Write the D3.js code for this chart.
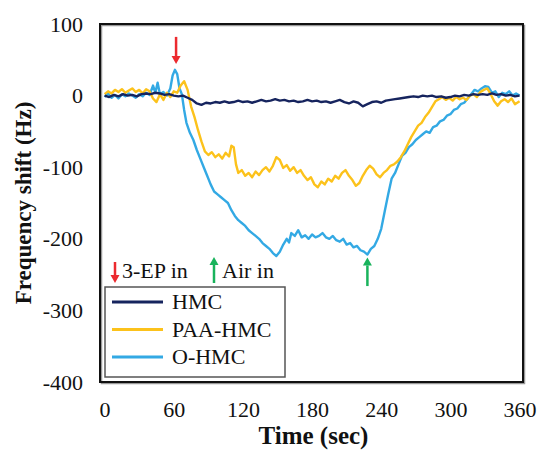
<!DOCTYPE html>
<html>
<head>
<meta charset="utf-8">
<script src="https://cdn.jsdelivr.net/npm/d3@7"></script>
<style>
    body { margin: 0; background: #fff; }
    svg text { font-family: "Liberation Serif", "Times New Roman", serif; fill: #111; }
</style>
</head>
<body>
<svg id="chart" width="541" height="451"></svg>
<script>
// readings from the figure, [time (s), shift (Hz)]
var hmc = [[0,0],[4,-2],[8,1],[12,-1],[16,2],[20,0],[24,1],[28,-1],[32,2],[36,3],[40,2],[44,4],[48,3],[52,1],[56,2],[60,0],[64,-1],[68,0],[72,-3],[76,-6],[80,-11],[84,-13],[88,-10],[92,-11],[96,-9],[100,-10],[104,-8],[108,-10],[112,-9],[116,-7],[120,-9],[124,-8],[128,-10],[132,-8],[136,-6],[140,-8],[144,-7],[148,-5],[152,-7],[156,-6],[160,-8],[164,-7],[168,-9],[172,-8],[176,-6],[180,-8],[184,-7],[188,-9],[192,-8],[196,-10],[200,-8],[204,-6],[208,-9],[212,-11],[216,-8],[220,-10],[224,-15],[228,-12],[232,-9],[236,-8],[240,-10],[244,-7],[248,-6],[252,-5],[256,-4],[260,-3],[264,-2],[268,-1],[272,-2],[276,0],[280,-1],[284,0],[288,-2],[292,-1],[296,-3],[300,-2],[304,0],[308,-1],[312,1],[316,0],[320,2],[324,1],[328,2],[332,1],[336,3],[340,1],[344,2],[348,0],[352,1],[356,-1],[360,0]];

var paaHmc = [[0,2],[3,6],[6,3],[9,8],[12,5],[15,9],[18,4],[21,7],[24,10],[27,5],[30,8],[33,3],[36,9],[39,6],[42,-4],[45,-9],[48,2],[51,-6],[54,4],[57,-2],[60,6],[63,4],[66,14],[69,20],[72,8],[75,-15],[78,-30],[81,-48],[84,-64],[87,-78],[90,-83],[93,-79],[96,-86],[99,-82],[102,-88],[105,-80],[108,-85],[110,-70],[112,-72],[114,-96],[116,-108],[119,-104],[122,-112],[125,-108],[128,-114],[131,-106],[134,-111],[137,-104],[140,-100],[143,-106],[146,-98],[149,-86],[152,-90],[155,-101],[158,-97],[161,-105],[164,-100],[167,-108],[170,-104],[173,-112],[176,-118],[179,-114],[182,-124],[185,-128],[188,-120],[191,-124],[194,-116],[197,-120],[200,-112],[203,-116],[206,-108],[209,-104],[212,-112],[215,-118],[218,-126],[221,-122],[224,-112],[227,-104],[230,-98],[233,-102],[236,-110],[239,-114],[242,-108],[245,-104],[248,-98],[251,-96],[254,-92],[257,-86],[260,-78],[263,-68],[266,-58],[269,-50],[272,-42],[275,-38],[278,-30],[281,-24],[284,-16],[287,-8],[290,-5],[293,-2],[296,-6],[299,-3],[302,-7],[305,-2],[308,-5],[311,-3],[314,-6],[317,0],[320,2],[323,-2],[326,5],[329,8],[332,10],[335,2],[338,-8],[341,-14],[344,-8],[347,-5],[350,-9],[353,-4],[356,-12],[360,-8]];

var oHmc = [[0,-2],[3,3],[6,-3],[9,1],[12,-4],[15,2],[18,-1],[21,3],[24,0],[27,-3],[30,2],[33,-1],[36,4],[39,1],[42,14],[44,4],[46,18],[48,2],[51,5],[54,0],[57,10],[59,28],[61,36],[63,30],[65,10],[67,2],[69,-20],[71,-38],[74,-52],[77,-62],[80,-76],[83,-88],[86,-100],[89,-112],[92,-124],[95,-134],[98,-138],[101,-142],[104,-146],[107,-150],[110,-160],[113,-168],[116,-174],[119,-178],[122,-182],[125,-188],[128,-192],[131,-196],[134,-200],[137,-206],[140,-210],[143,-214],[146,-220],[149,-224],[152,-218],[155,-208],[158,-200],[160,-205],[162,-192],[165,-196],[168,-188],[171,-198],[174,-195],[177,-200],[180,-194],[183,-198],[186,-196],[189,-192],[192,-198],[195,-200],[198,-196],[201,-202],[204,-204],[207,-200],[210,-208],[213,-206],[216,-212],[219,-210],[222,-216],[225,-218],[228,-222],[231,-214],[234,-210],[237,-200],[240,-186],[243,-162],[246,-138],[249,-116],[252,-108],[255,-96],[258,-84],[261,-80],[264,-72],[267,-68],[270,-62],[273,-58],[276,-54],[279,-50],[282,-52],[285,-44],[288,-42],[291,-36],[294,-34],[297,-28],[300,-26],[303,-20],[306,-18],[309,-12],[312,-10],[315,-4],[318,2],[321,8],[324,6],[327,10],[330,13],[333,12],[336,4],[339,6],[342,-2],[345,4],[348,2],[351,6],[354,0],[357,3],[360,0]];

var seriesNames = ["HMC", "PAA-HMC", "O-HMC"];
var seriesColors = ["#16245e", "#fcc21b", "#33a9e4"];
var xTicks = [0, 60, 120, 180, 240, 300, 360];
var yTicks = [100, 0, -100, -200, -300, -400];

// event markers: [time, arrow base value, arrow tip value]
var epIn = [62, 82, 44];
var airIn = [228, -266, -226];

var svg = d3.select("#chart");
var plot = { left: 100, right: 523, top: 24, bottom: 382 };

var x = d3.scaleLinear().domain([-4, 363]).range([plot.left, plot.right]);
var y = d3.scaleLinear().domain([-400, 100]).range([plot.bottom, plot.top]);

var line = d3.line()
    .x(function(d) { return x(d[0]); })
    .y(function(d) { return y(d[1]); });

// plain hyphen minus like the original, no tick marks
var plain = function(d) { return String(d); };
var xAxis = svg.append("g")
    .attr("transform", "translate(0," + plot.bottom + ")")
    .call(d3.axisBottom(x).tickValues(xTicks).tickFormat(plain).tickSize(0).tickPadding(19));
var yAxis = svg.append("g")
    .attr("transform", "translate(" + plot.left + ",0)")
    .call(d3.axisLeft(y).tickValues(yTicks).tickFormat(plain).tickSize(0).tickPadding(17));
[xAxis, yAxis].forEach(function(a) {
    a.select(".domain").remove();
    a.selectAll("text").attr("font-size", 22).attr("font-family", "Liberation Serif").attr("fill", "#111");
});

// frame shadow + frame
svg.append("rect")
    .attr("x", plot.left + 1.5).attr("y", plot.top + 1.5)
    .attr("width", plot.right - plot.left).attr("height", plot.bottom - plot.top)
    .attr("fill", "none").attr("stroke", "#999").attr("stroke-width", 1.5);
svg.append("rect")
    .attr("x", plot.left).attr("y", plot.top)
    .attr("width", plot.right - plot.left).attr("height", plot.bottom - plot.top)
    .attr("fill", "none").attr("stroke", "#111").attr("stroke-width", 2);

var data = [hmc, paaHmc, oHmc];
// O-HMC and PAA first so HMC sits on top like the original
[2, 1, 0].forEach(function(i) {
    svg.append("path")
        .datum(data[i])
        .attr("fill", "none")
        .attr("stroke", seriesColors[i])
        .attr("stroke-width", 2.4)
        .attr("stroke-linejoin", "round")
        .attr("d", line);
});

function arrow(cx, yBase, yTip, color) {
    var dir = yTip > yBase ? 1 : -1;
    var headLen = 8;
    svg.append("line")
        .attr("x1", cx).attr("x2", cx)
        .attr("y1", yBase).attr("y2", yTip - dir * headLen)
        .attr("stroke", color).attr("stroke-width", 2.5);
    svg.append("path")
        .attr("d", "M" + (cx - 4.5) + "," + (yTip - dir * headLen) +
            "L" + (cx + 4.5) + "," + (yTip - dir * headLen) +
            "L" + cx + "," + yTip + "Z")
        .attr("fill", color);
}

var red = "#ec2a2f";
var green = "#19b35c";
arrow(x(epIn[0]), y(epIn[1]), y(epIn[2]), red);
arrow(x(airIn[0]), y(airIn[1]), y(airIn[2]), green);

// annotation key above the legend
arrow(115, 262, 283, red);
svg.append("text").attr("x", 122).attr("y", 278).attr("font-size", 22).text("3-EP in");
arrow(214, 283, 257, green);
svg.append("text").attr("x", 222).attr("y", 278).attr("font-size", 22).text("Air in");

// legend
var legend = svg.append("g");
legend.append("rect")
    .attr("x", 105).attr("y", 287).attr("width", 180).attr("height", 90)
    .attr("fill", "#fff").attr("stroke", "#555").attr("stroke-width", 1.5);
seriesNames.forEach(function(name, i) {
    var ly = 302 + i * 27.5;
    legend.append("line")
        .attr("x1", 112).attr("x2", 163).attr("y1", ly).attr("y2", ly)
        .attr("stroke", seriesColors[i]).attr("stroke-width", 3);
    legend.append("text")
        .attr("x", 172).attr("y", ly + 7)
        .attr("font-size", 22).text(name);
});

// axis titles
svg.append("text")
    .attr("x", (plot.left + plot.right) / 2 + 2).attr("y", 444)
    .attr("text-anchor", "middle").attr("font-size", 25).attr("font-weight", "bold")
    .text("Time (sec)");
svg.append("text")
    .attr("transform", "translate(31," + ((plot.top + plot.bottom) / 2) + ") rotate(-90)")
    .attr("text-anchor", "middle").attr("font-size", 23).attr("font-weight", "bold")
    .text("Frequency shift (Hz)");
</script>
</body>
</html>
